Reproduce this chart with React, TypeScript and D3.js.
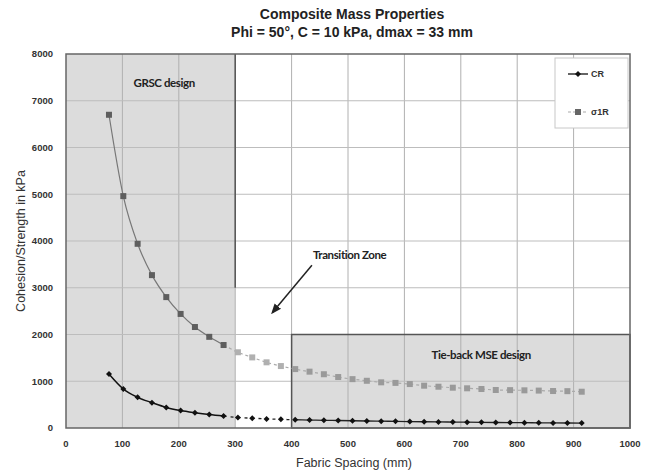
import * as d3 from 'd3';

// Fabric spacing in mm (3" to 36" steps)
const spacingMm = [
  76.2, 101.6, 127, 152.4, 177.8, 203.2, 228.6, 254, 279.4, 304.8, 330.2, 355.6, 381, 406.4, 431.8, 457.2, 482.6,
  508, 533.4, 558.8, 584.2, 609.6, 635, 660.4, 685.8, 711.2, 736.6, 762, 787.4, 812.8, 838.2, 863.6, 889, 914.4,
];
const sigma1R = [
  6700, 4960, 3940, 3270, 2800, 2440, 2160, 1950, 1775, 1620, 1510, 1405, 1325, 1260, 1205, 1150, 1090, 1045, 1010,
  977, 965, 940, 905, 883, 862, 849, 834, 813, 810, 806, 800, 791, 788, 776,
];
const cr = [
  1155, 835, 656, 542, 440, 375, 328, 288, 257, 225, 210, 195, 185, 176, 170, 164, 160, 155, 150, 146, 142, 138, 134,
  130, 127, 124, 121, 118, 116, 113, 111, 109, 107, 105,
];
const xTicks = [0, 100, 200, 300, 400, 500, 600, 700, 800, 900, 1000];
const yTicks = [0, 1000, 2000, 3000, 4000, 5000, 6000, 7000, 8000];

// design zones (data units)
const grscEnd = 300;
const grscBorderBottom = 3000;
const tiebackStart = 400;
const tiebackTop = 2000;

const W = 652;
const H = 473;
const margin = { left: 66, right: 22, top: 54, bottom: 45 };

export default function App() {
  const x = d3.scaleLinear().domain([0, 1000]).range([margin.left, W - margin.right]);
  const y = d3.scaleLinear().domain([0, 8000]).range([H - margin.bottom, margin.top]);

  const pts = spacingMm.map((s, i) => ({ s, sig: sigma1R[i], cr: cr[i] }));
  const inGrsc = pts.filter((d) => d.s <= grscEnd);
  const afterGrsc = pts.filter((d) => d.s >= inGrsc[inGrsc.length - 1].s);
  const crTrans = pts.filter((d) => d.s >= 279 && d.s <= 407);
  const crTie = pts.filter((d) => d.s >= 406);

  const sigLine = d3
    .line<{ s: number; sig: number }>()
    .x((d) => x(d.s))
    .y((d) => y(d.sig))
    .curve(d3.curveMonotoneX);
  const crLine = d3
    .line<{ s: number; cr: number }>()
    .x((d) => x(d.s))
    .y((d) => y(d.cr))
    .curve(d3.curveMonotoneX);

  const diamond = (cx: number, cy: number, r: number) =>
    `M${cx},${cy - r}L${cx + r},${cy}L${cx},${cy + r}L${cx - r},${cy}Z`;

  const font = "'Liberation Sans', Arial, sans-serif";
  const labelFont = "Lato, 'Open Sans', sans-serif";

  return (
    <div style={{ position: 'absolute', left: 0, top: 0 }}>
      <svg width={W} height={H} style={{ display: 'block', background: '#fff' }}>
        <defs>
          <marker id="arrow" viewBox="0 0 10 10" refX="8" refY="5" markerWidth="7" markerHeight="7" orient="auto">
            <path d="M0,1L10,5L0,9Z" fill="#222" />
          </marker>
        </defs>

        {/* title */}
        <text x={352} y={19} textAnchor="middle" fontFamily={font} fontWeight="bold" fontSize={14} fill="#222">
          Composite Mass Properties
        </text>
        <text x={352} y={37} textAnchor="middle" fontFamily={font} fontWeight="bold" fontSize={14} fill="#222">
          Phi = 50°, C = 10 kPa, dmax = 33 mm
        </text>

        {/* shaded zones */}
        <rect x={x(0)} y={y(8000)} width={x(grscEnd) - x(0)} height={y(0) - y(8000)} fill="#dcdcdc" />
        <rect
          x={x(tiebackStart)}
          y={y(tiebackTop)}
          width={x(1000) - x(tiebackStart)}
          height={y(0) - y(tiebackTop)}
          fill="#dcdcdc"
        />

        {/* grid */}
        {xTicks.slice(1, -1).map((t) => (
          <line key={'gx' + t} x1={x(t)} x2={x(t)} y1={y(0)} y2={y(8000)} stroke="#b0b0b0" strokeWidth={1} />
        ))}
        {yTicks.slice(1, -1).map((t) => (
          <line key={'gy' + t} x1={x(0)} x2={x(1000)} y1={y(t)} y2={y(t)} stroke="#bdbdbd" strokeWidth={1} />
        ))}

        {/* zone borders */}
        <path
          d={`M${x(grscEnd)},${y(grscBorderBottom)}V${y(8000)}`}
          stroke="#555"
          strokeWidth={1.5}
          fill="none"
        />
        <rect
          x={x(tiebackStart)}
          y={y(tiebackTop)}
          width={x(1000) - x(tiebackStart)}
          height={y(0) - y(tiebackTop)}
          fill="none"
          stroke="#555"
          strokeWidth={1.5}
        />

        {/* plot border */}
        <rect
          x={x(0)}
          y={y(8000)}
          width={x(1000) - x(0)}
          height={y(0) - y(8000)}
          fill="none"
          stroke="#666"
          strokeWidth={1.5}
        />

        {/* tick labels */}
        {yTicks.map((t) => (
          <text
            key={'ty' + t}
            x={x(0) - 13}
            y={y(t)}
            dy="0.35em"
            textAnchor="end"
            fontFamily={font}
            fontSize={9.5}
            fontWeight="bold"
            fill="#333"
          >
            {t}
          </text>
        ))}
        {xTicks.map((t) => (
          <text
            key={'tx' + t}
            x={x(t)}
            y={y(0) + 16}
            dy="0.35em"
            textAnchor="middle"
            fontFamily={font}
            fontSize={9.5}
            fontWeight="bold"
            fill="#333"
          >
            {t}
          </text>
        ))}

        {/* axis titles */}
        <text
          transform={`translate(21,${(y(0) + y(8000)) / 2}) rotate(-90)`}
          textAnchor="middle"
          dy="0.35em"
          fontFamily={font}
          fontSize={12.5}
          fill="#333"
        >
          Cohesion/Strength in kPa
        </text>
        <text x={(x(0) + x(1000)) / 2 + 6} y={H - 6} textAnchor="middle" fontFamily={font} fontSize={12.5} fill="#333">
          Fabric Spacing (mm)
        </text>

        {/* σ1R series */}
        <path d={sigLine(inGrsc) || ''} stroke="#777" strokeWidth={1.2} fill="none" />
        <path d={sigLine(afterGrsc) || ''} stroke="#aaa" strokeWidth={1.2} strokeDasharray="3,3" fill="none" />
        {pts.map((d, i) => (
          <rect
            key={'s' + i}
            x={x(d.s) - 3}
            y={y(d.sig) - 3}
            width={6}
            height={6}
            fill={d.s <= grscEnd ? '#5e5e5e' : d.s < tiebackStart ? '#b0b0b0' : '#9a9a9a'}
          />
        ))}

        {/* CR series */}
        <path d={crLine(inGrsc) || ''} stroke="#111" strokeWidth={1.5} fill="none" />
        <path d={crLine(crTrans) || ''} stroke="#222" strokeWidth={1.3} strokeDasharray="3,4" fill="none" />
        <path d={crLine(crTie) || ''} stroke="#222" strokeWidth={1.3} fill="none" />
        {pts.map((d, i) => (
          <path key={'c' + i} d={diamond(x(d.s), y(d.cr), 3)} fill="#111" />
        ))}

        {/* annotations */}
        <text x={x(174)} y={y(7380)} dy="0.35em" textAnchor="middle" fontFamily={labelFont} fontWeight="bold" fontSize={11.5} fill="#222" letterSpacing={-0.4}>
          GRSC design
        </text>
        <text x={x(736)} y={y(1560)} dy="0.35em" textAnchor="middle" fontFamily={labelFont} fontWeight="bold" fontSize={11.5} fill="#222" letterSpacing={-0.4}>
          Tie-back MSE design
        </text>
        <text x={x(438)} y={y(3700)} dy="0.35em" textAnchor="start" fontFamily={labelFont} fontWeight="bold" fontSize={11.5} fill="#222" letterSpacing={-0.4}>
          Transition Zone
        </text>
        <line
          x1={x(436)}
          y1={y(3480)}
          x2={x(366)}
          y2={y(2470)}
          stroke="#222"
          strokeWidth={1.5}
          markerEnd="url(#arrow)"
        />

        {/* legend */}
        <g transform="translate(555,58)">
          <rect width={73} height={70} fill="#fff" stroke="#c8c8c8" />
          <line x1={13} x2={33} y1={16} y2={16} stroke="#111" strokeWidth={1.3} />
          <path d={diamond(23, 16, 3)} fill="#111" />
          <text x={36} y={16} dy="0.35em" fontFamily={font} fontSize={9} fontWeight="bold" fill="#333">
            CR
          </text>
          <line x1={13} x2={33} y1={54} y2={54} stroke="#aaa" strokeWidth={1.2} strokeDasharray="3,2" />
          <rect x={20} y={51} width={6} height={6} fill="#666" />
          <text x={36} y={54} dy="0.35em" fontFamily={font} fontSize={9} fontWeight="bold" fill="#333">
            σ1R
          </text>
        </g>
      </svg>
    </div>
  );
}
